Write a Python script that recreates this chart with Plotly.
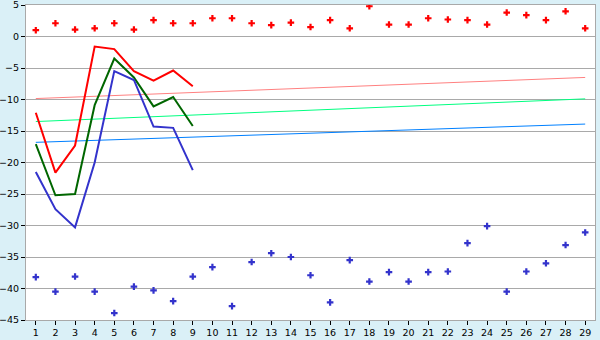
import plotly.graph_objects as go

days = list(range(1, 30))
upper_pts = [1.0, 2.1, 1.1, 1.3, 2.1, 1.1, 2.6, 2.1, 2.1, 2.9, 2.9, 2.1, 1.8, 2.2,
             1.5, 2.6, 1.3, 4.8, 1.9, 1.9, 2.9, 2.7, 2.6, 1.9, 3.8, 3.4, 2.6, 4.0, 1.3]
lower_pts = [-38.2, -40.5, -38.1, -40.5, -43.9, -39.7, -40.3, -42.0, -38.1, -36.6,
             -42.8, -35.8, -34.4, -35.0, -37.9, -42.2, -35.5, -38.9, -37.4, -38.9,
             -37.4, -37.3, -32.8, -30.1, -40.5, -37.3, -36.0, -33.1, -31.1]
line_days = list(range(1, 10))
red_line = [-12.1, -21.6, -17.3, -1.6, -2.0, -5.5, -7.0, -5.4, -7.9]
green_line = [-17.1, -25.2, -25.0, -10.9, -3.5, -6.5, -11.1, -9.6, -14.2]
blue_line = [-21.5, -27.4, -30.3, -20.0, -5.5, -6.9, -14.3, -14.5, -21.2]
trend_days = [1, 29]
red_trend = [-9.85, -6.5]
green_trend = [-13.5, -9.9]
blue_trend = [-16.8, -13.9]

fig = go.Figure()
fig.add_trace(go.Scatter(x=trend_days, y=red_trend, mode="lines",
                         line=dict(color="#ff8080", width=1)))
fig.add_trace(go.Scatter(x=trend_days, y=green_trend, mode="lines",
                         line=dict(color="#00ff80", width=1)))
fig.add_trace(go.Scatter(x=trend_days, y=blue_trend, mode="lines",
                         line=dict(color="#0080ff", width=1)))
fig.add_trace(go.Scatter(x=line_days, y=red_line, mode="lines",
                         line=dict(color="#ff0000", width=2)))
fig.add_trace(go.Scatter(x=line_days, y=green_line, mode="lines",
                         line=dict(color="#006600", width=2)))
fig.add_trace(go.Scatter(x=line_days, y=blue_line, mode="lines",
                         line=dict(color="#3333cc", width=2)))
fig.add_trace(go.Scatter(x=days, y=upper_pts, mode="markers",
                         marker=dict(symbol="cross", size=5.5, color="#ff0000")))
fig.add_trace(go.Scatter(x=days, y=lower_pts, mode="markers",
                         marker=dict(symbol="cross", size=5.5, color="#3333cc")))

fig.update_layout(
    width=600, height=340,
    margin=dict(l=26, r=5, t=5, b=20),
    paper_bgcolor="#daf0f7",
    plot_bgcolor="#ffffff",
    showlegend=False,
    font=dict(family="DejaVu Sans", size=9.5, color="#000000"),
)
fig.update_xaxes(
    range=[0.5, 29.5], tickmode="array", tickvals=days, ticktext=[str(d) for d in days],
    showgrid=False, zeroline=False, automargin=False,
    showline=True, linecolor="#a9a9a9", linewidth=1, mirror=True,
    ticks="outside", ticklen=4, tickcolor="#000000", ticklabelstandoff=0,
)
fig.update_yaxes(
    range=[-45, 5], dtick=5, tick0=0,
    showgrid=True, gridcolor="#a9a9a9", gridwidth=1, zeroline=False, automargin=False,
    showline=True, linecolor="#a9a9a9", linewidth=1, mirror=True,
    ticks="outside", ticklen=4, tickcolor="#000000",
    ticklabeloverflow="allow",
)
fig.write_html("out.html")
